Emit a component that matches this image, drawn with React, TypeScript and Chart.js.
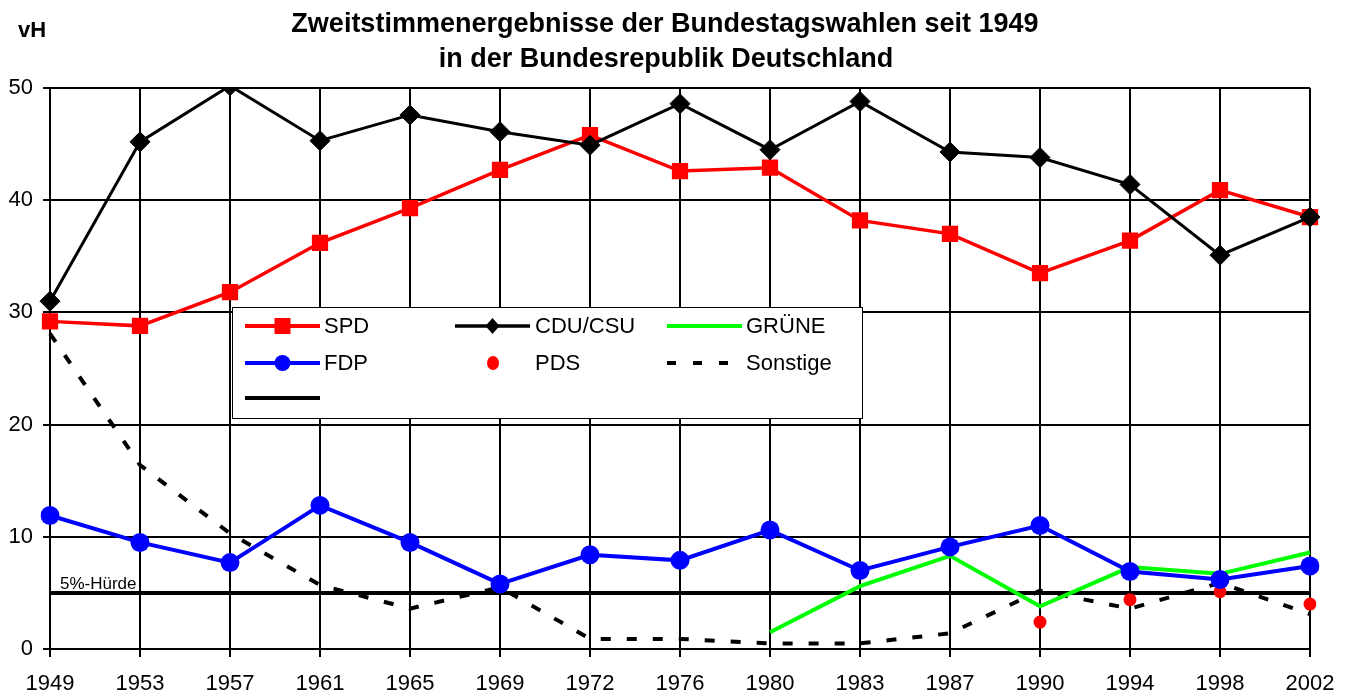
import React, { useEffect, useRef } from "react";
import { Chart, registerables } from "chart.js";

Chart.register(...registerables);

const years = ["1949", "1953", "1957", "1961", "1965", "1969", "1972", "1976", "1980", "1983", "1987", "1990", "1994", "1998", "2002"];
const spd = [29.2, 28.8, 31.8, 36.2, 39.3, 42.7, 45.8, 42.6, 42.9, 38.2, 37.0, 33.5, 36.4, 40.9, 38.5];
const cdu = [31.0, 45.2, 50.2, 45.3, 47.6, 46.1, 44.9, 48.6, 44.5, 48.8, 44.3, 43.8, 41.4, 35.1, 38.5];
const fdp = [11.9, 9.5, 7.7, 12.8, 9.5, 5.8, 8.4, 7.9, 10.6, 7.0, 9.1, 11.0, 6.9, 6.2, 7.4];
const gruene = [null, null, null, null, null, null, null, null, 1.5, 5.6, 8.3, 3.8, 7.3, 6.7, 8.6];
const pds = [null, null, null, null, null, null, null, null, null, null, null, 2.4, 4.4, 5.1, 4.0];
const sonstige = [28.1, 16.4, 10.3, 5.7, 3.6, 5.5, 0.9, 0.9, 0.5, 0.5, 1.4, 5.2, 3.6, 5.9, 3.1];
const huerde = years.map(() => 5);
const yTicks = [0, 10, 20, 30, 40, 50];

const FONT = 'Arial, "Liberation Sans", sans-serif';

const overlayPlugin = {
  id: "overlay",
  afterDatasetsDraw(chart: any) {
    const ctx = chart.ctx;
    const yScale = chart.scales.y;
    const area = chart.chartArea;
    ctx.save();
    // 5%-Hürde label
    ctx.fillStyle = "#000";
    ctx.font = `17px ${FONT}`;
    ctx.textAlign = "left";
    ctx.textBaseline = "alphabetic";
    ctx.fillText("5%-Hürde", area.left + 10, yScale.getPixelForValue(5) - 4);

    // Legend box
    const bx = 232, by = 307, bw = 630, bh = 111;
    ctx.fillStyle = "#fff";
    ctx.fillRect(bx, by, bw, bh);
    ctx.strokeStyle = "#000";
    ctx.lineWidth = 1;
    ctx.strokeRect(bx + 0.5, by + 0.5, bw, bh);

    const rows = [326, 363, 398];
    const cols = [245, 455, 667];
    const lineLen = 75;
    const items = [
      { label: "SPD", col: 0, row: 0, color: "#ff0000", line: true, dash: [] as number[], marker: "rect" },
      { label: "CDU/CSU", col: 1, row: 0, color: "#000000", line: true, dash: [], marker: "diamond" },
      { label: "GRÜNE", col: 2, row: 0, color: "#00ff00", line: true, dash: [], marker: "" },
      { label: "FDP", col: 0, row: 1, color: "#0000ff", line: true, dash: [], marker: "circle" },
      { label: "PDS", col: 1, row: 1, color: "#ff0000", line: false, dash: [], marker: "dot" },
      { label: "Sonstige", col: 2, row: 1, color: "#000000", line: true, dash: [9, 17], marker: "" },
      { label: "", col: 0, row: 2, color: "#000000", line: true, dash: [], marker: "" },
    ];
    ctx.font = `22px ${FONT}`;
    ctx.textBaseline = "middle";
    for (const it of items) {
      const x0 = cols[it.col];
      const y = rows[it.row];
      const cx = x0 + lineLen / 2;
      if (it.line) {
        ctx.strokeStyle = it.color;
        ctx.lineWidth = it.label === "CDU/CSU" ? 3.5 : 4;
        ctx.lineCap = "butt";
        ctx.setLineDash(it.dash);
        ctx.beginPath();
        ctx.moveTo(x0, y);
        ctx.lineTo(it.dash.length ? x0 + 61 : x0 + lineLen, y);
        ctx.stroke();
        ctx.setLineDash([]);
      }
      ctx.fillStyle = it.color;
      if (it.marker === "rect") {
        ctx.fillRect(cx - 8, y - 8, 16, 16);
      } else if (it.marker === "diamond") {
        ctx.beginPath();
        ctx.moveTo(cx, y - 8);
        ctx.lineTo(cx + 7, y);
        ctx.lineTo(cx, y + 8);
        ctx.lineTo(cx - 7, y);
        ctx.closePath();
        ctx.fill();
      } else if (it.marker === "circle") {
        ctx.beginPath();
        ctx.arc(cx, y, 8, 0, Math.PI * 2);
        ctx.fill();
      } else if (it.marker === "dot") {
        ctx.beginPath();
        ctx.ellipse(x0 + 38, y, 6, 7, 0, 0, Math.PI * 2);
        ctx.fill();
      }
      if (it.label) {
        ctx.fillStyle = "#000";
        ctx.textAlign = "left";
        const tx = it.col === 0 ? x0 + 79 : it.col === 1 ? x0 + 80 : x0 + 79;
        ctx.fillText(it.label, tx, y + 1);
      }
    }

    // Title and unit
    ctx.fillStyle = "#000";
    ctx.textAlign = "center";
    ctx.textBaseline = "middle";
    ctx.font = `bold 27px ${FONT}`;
    ctx.fillText("Zweitstimmenergebnisse der Bundestagswahlen seit 1949", 665, 25);
    ctx.fillText("in der Bundesrepublik Deutschland", 666, 60);
    ctx.textAlign = "left";
    ctx.font = `bold 22px ${FONT}`;
    ctx.fillText("vH", 18, 31);
    ctx.restore();
  },
};

export default function App() {
  const ref = useRef<HTMLCanvasElement>(null);
  useEffect(() => {
    if (!ref.current) return;
    Chart.defaults.font.family = FONT;
    const chart = new Chart(ref.current, {
      type: "line",
      data: {
        labels: years,
        datasets: [
          {
            label: "CDU/CSU", data: cdu, borderColor: "#000", backgroundColor: "#000",
            borderWidth: 3, pointStyle: "rectRot", pointRadius: 10, pointBorderWidth: 1, order: 1,
          },
          {
            label: "SPD", data: spd, borderColor: "#ff0000", backgroundColor: "#ff0000",
            borderWidth: 3.5, pointStyle: "rect", pointRadius: 11.5, pointBorderWidth: 0, order: 2,
          },
          {
            label: "FDP", data: fdp, borderColor: "#0000ff", backgroundColor: "#0000ff",
            borderWidth: 4, pointStyle: "circle", pointRadius: 9.5, pointBorderWidth: 0, order: 3,
          },
          {
            label: "GRÜNE", data: gruene, borderColor: "#00ff00", backgroundColor: "#00ff00",
            borderWidth: 4, pointRadius: 0, order: 4,
          },
          {
            label: "PDS", data: pds, borderColor: "#ff0000", backgroundColor: "#ff0000",
            showLine: false, pointStyle: "circle", pointRadius: 6.5, pointBorderWidth: 0, order: 5,
          },
          {
            label: "Sonstige", data: sonstige, borderColor: "#000", backgroundColor: "#000",
            borderWidth: 4, borderDash: [10, 16], pointRadius: 0, order: 6,
          },
          {
            label: "5%", data: huerde, borderColor: "#000", backgroundColor: "#000",
            borderWidth: 4, pointRadius: 0, order: 7,
          },
        ] as any,
      },
      options: {
        responsive: false,
        animation: false,
        layout: { padding: { top: 88, left: 0, right: 46, bottom: 0 } },
        plugins: { legend: { display: false }, title: { display: false }, tooltip: { enabled: false } },
        elements: { line: { tension: 0 } },
        scales: {
          x: {
            type: "category",
            offset: false,
            grid: { color: "#000", lineWidth: 2, tickLength: 8, drawTicks: true },
            border: { display: true, color: "#000", width: 2 },
            ticks: { color: "#000", font: { size: 22, family: FONT }, padding: 14, maxRotation: 0, autoSkip: false },
            afterFit: (s: any) => { s.height = 43; },
          },
          y: {
            min: 0,
            max: 50,
            afterBuildTicks: (s: any) => { s.ticks = yTicks.map((v) => ({ value: v })); },
            grid: { color: "#000", lineWidth: 2, tickLength: 7, drawTicks: true },
            border: { display: true, color: "#000", width: 2 },
            ticks: { color: "#000", font: { size: 22, family: FONT }, padding: 10 },
            afterFit: (s: any) => { s.width = 50; },
          },
        },
      },
      plugins: [overlayPlugin],
    });
    return () => chart.destroy();
  }, []);
  return (
    <div style={{ position: "absolute", left: 0, top: 0, width: 1356, height: 692, background: "#fff" }}>
      <canvas ref={ref} width={1356} height={692} style={{ display: "block" }} />
    </div>
  );
}
